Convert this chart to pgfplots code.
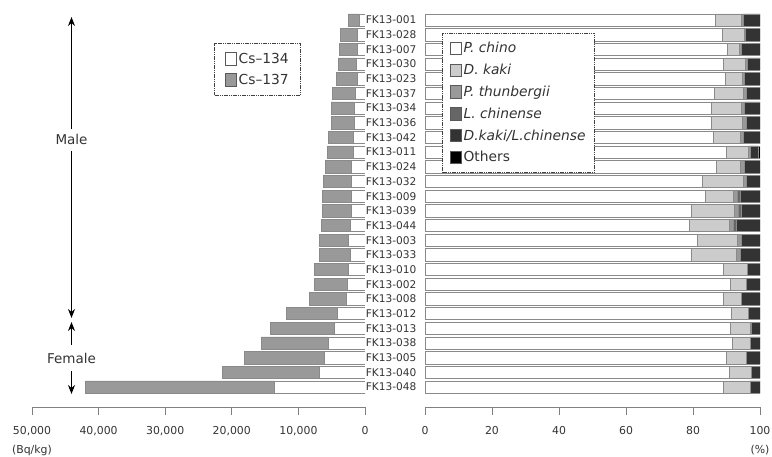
\documentclass[border=0pt]{standalone}
\usepackage{fontspec}
\setmainfont{DejaVu Sans}
\usepackage{pgfplots}
\pgfplotsset{compat=1.18}
\usepackage{pgfplotstable}
\usetikzlibrary{arrows.meta}
\definecolor{txt}{HTML}{333333}
\definecolor{edge}{HTML}{8A8A8A}
\definecolor{axc}{HTML}{808080}
\definecolor{cs137}{HTML}{999999}
\definecolor{kaki}{HTML}{CCCCCC}
\definecolor{thun}{HTML}{999999}
\definecolor{lchin}{HTML}{666666}
\definecolor{dklc}{HTML}{333333}
\pgfplotsset{sqlegend/.style={legend image code/.code={\draw[##1,draw=black!65] (0pt,-6.2pt) rectangle (11.5pt,6.2pt);}}}

\pgfplotstableread{
y cs134 cs137
26 850 1650
25 1150 2500
24 1150 2750
23 1250 2750
22 1150 3200
21 1450 3400
20 1650 3450
19 1550 3550
18 1750 3750
17 1750 3900
16 2000 4000
15 2000 4250
14 2050 4350
13 2100 4350
12 2250 4350
11 2450 4450
10 2200 4700
9 2450 5100
8 2600 4950
7 2750 5600
6 4100 7750
5 4600 9550
4 5500 10100
3 6150 11950
2 6900 14500
1 13650 28350
}\cstable

\pgfplotstableread{
y chino kaki thun lchin dklc oth
26 86.7 7.6 0.7 0 5.0 0
25 88.6 6.6 0.5 0 4.3 0
24 90.1 3.6 0.7 0 5.6 0
23 88.9 6.6 0.7 0 3.8 0
22 89.7 4.9 0.7 0 4.7 0
21 86.5 8.5 1.0 0 4.0 0
20 85.5 8.8 1.0 0 4.7 0
19 85.5 9.2 1.3 0 4.0 0
18 86.1 7.9 1.0 0 5.0 0
17 90.0 6.5 0.5 0 2.5 0.5
16 86.9 7.1 1.2 0 4.8 0
15 82.9 12.1 0.8 0 4.2 0
14 83.6 8.4 1.2 0.8 6.0 0
13 79.4 12.9 1.2 1.0 5.5 0
12 78.8 12.0 1.2 1.0 7.0 0
11 81.3 12.0 1.0 0 5.7 0
10 79.4 13.6 1.0 0 6.0 0
9 89.1 7.1 0 0 3.8 0
8 91.2 4.6 0 0 4.2 0
7 89.1 5.4 0 0 5.5 0
6 91.5 5.0 0 0 3.5 0
5 91.2 5.8 0.3 0 2.7 0
4 91.7 5.3 0 0 3.0 0
3 90.0 6.0 0 0 4.0 0
2 90.7 6.6 0 0 2.7 0
1 89.1 7.9 0 0 3.0 0
}\sptable

\begin{document}
\begin{tikzpicture}
\pgfplotsset{
  common/.style={
    scale only axis, height=407pt,
    ymin=-0.36, ymax=27.36,
    xbar stacked, bar width=12.3pt,
    axis x line*=bottom,
    x axis line style={draw=axc, line width=0.8pt, -},
    xtick style={draw=axc, line width=0.8pt},
    tick align=outside,
    major tick length=8pt,
    scaled x ticks=false,
    xticklabel style={font=\fontsize{10.9}{12}\selectfont, text=txt, yshift=-8pt},
    /pgf/number format/.cd, 1000 sep={,}, assume math mode=true,
    /pgfplots/.cd,
    legend cell align=left,
    every axis plot/.append style={draw=edge, line width=0.6pt},
  }
}
\path[use as bounding box] (0pt,0pt) rectangle (772pt,-457pt);

\begin{axis}[common,
  at={(32pt,-407pt)}, anchor=south west, width=333pt,
  xmin=0, xmax=50000, x dir=reverse,
  xtick={0,10000,20000,30000,40000,50000},
  hide y axis,
  legend style={at={(0.547,0.894)}, anchor=north west,
    draw=black!75, dash pattern=on 1.2pt off 0.6pt, line width=0.9pt,
    font=\fontsize{13.8}{15}\selectfont, text=txt,
    row sep=5pt, inner xsep=10pt, inner ysep=7.5pt},
]
\addplot[fill=white, sqlegend] table[x=cs134, y=y]{\cstable};
\addplot[fill=cs137, sqlegend] table[x=cs137, y=y]{\cstable};
\legend{Cs–134, Cs–137}
\end{axis}

\begin{axis}[common,
  at={(425pt,-407pt)}, anchor=south west, width=335pt,
  xmin=0, xmax=100,
  xtick={0,20,40,60,80,100},
  axis y line*=left,
  y axis line style={draw=none},
  ytick={1,...,26},
  ytick style={draw=none},
  yticklabels={FK13-048,FK13-040,FK13-005,FK13-038,FK13-013,FK13-012,FK13-008,FK13-002,FK13-010,FK13-033,FK13-003,FK13-044,FK13-039,FK13-009,FK13-032,FK13-024,FK13-011,FK13-042,FK13-036,FK13-034,FK13-037,FK13-023,FK13-030,FK13-007,FK13-028,FK13-001},
  yticklabel style={font=\fontsize{10.6}{12}\selectfont, text=txt, xshift=3pt},
  legend style={at={(0.051,0.919)}, anchor=north west,
    draw=black!75, dash pattern=on 1.2pt off 0.6pt, line width=0.9pt,
    font=\fontsize{13.8}{15}\selectfont, text=txt,
    row sep=5.8pt, inner xsep=7pt, inner ysep=7pt},
]
\addplot[fill=white, sqlegend] table[x=chino, y=y]{\sptable};
\addplot[fill=kaki, sqlegend] table[x=kaki, y=y]{\sptable};
\addplot[fill=thun, sqlegend] table[x=thun, y=y]{\sptable};
\addplot[fill=lchin, sqlegend] table[x=lchin, y=y]{\sptable};
\addplot[fill=dklc, sqlegend] table[x=dklc, y=y]{\sptable};
\addplot[fill=black, sqlegend] table[x=oth, y=y]{\sptable};
\legend{\itshape P. chino, \itshape D. kaki, \itshape P. thunbergii, \itshape L. chinense, \itshape D.kaki/L.chinense, Others}
\end{axis}

\begin{scope}[font=\fontsize{13.5}{15}\selectfont, text=txt]
\draw[line width=1.4pt, -{Stealth[length=9pt,width=7pt]}] (71.5pt,-129pt) -- (71.5pt,-17pt);
\node at (71.5pt,-139pt) {Male};
\draw[line width=1.4pt, -{Stealth[length=9pt,width=7pt]}] (71.5pt,-151pt) -- (71.5pt,-318pt);
\draw[line width=1.4pt, -{Stealth[length=9pt,width=7pt]}] (71.5pt,-345pt) -- (71.5pt,-322pt);
\node at (71.5pt,-358pt) {Female};
\draw[line width=1.4pt, -{Stealth[length=9pt,width=7pt]}] (71.5pt,-371pt) -- (71.5pt,-394pt);
\end{scope}
\node[font=\fontsize{10.9}{12}\selectfont, text=txt] at (32pt,-450pt) {(Bq/kg)};
\node[font=\fontsize{10.9}{12}\selectfont, text=txt] at (760pt,-450pt) {(\%)};
\end{tikzpicture}
\end{document}
